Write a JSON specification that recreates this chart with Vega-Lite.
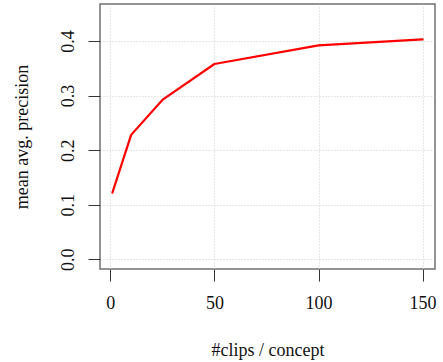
{
  "$schema": "https://vega.github.io/schema/vega-lite/v6.json",
  "autosize": "none",
  "width": 335,
  "height": 265,
  "padding": {"left": 100, "top": 4, "right": 8, "bottom": 93},
  "background": "white",
  "config": {
    "view": {"stroke": "#707070", "strokeWidth": 1.5},
    "font": "Liberation Serif"
  },
  "data": {
    "values": [
      {"clips": 1, "map": 0.122},
      {"clips": 10, "map": 0.228},
      {"clips": 25, "map": 0.292},
      {"clips": 50, "map": 0.358},
      {"clips": 100, "map": 0.392},
      {"clips": 150, "map": 0.403}
    ]
  },
  "mark": {"type": "line", "color": "#FF0000", "strokeWidth": 2.2, "strokeCap": "round", "strokeJoin": "round"},
  "encoding": {
    "x": {
      "field": "clips",
      "type": "quantitative",
      "scale": {"domain": [-4.96, 155.96], "nice": false, "zero": false},
      "axis": {
        "values": [0, 50, 100, 150],
        "domain": false,
        "grid": true,
        "gridColor": "#CCCCCC",
        "gridDash": [1, 2],
        "gridWidth": 1,
        "tickColor": "#333333",
        "tickSize": 12,
        "tickWidth": 1,
        "labelFont": "Liberation Serif",
        "labelFontSize": 18,
        "labelColor": "#111111",
        "labelPadding": 13,
        "labelFlush": false,
        "title": "#clips / concept",
        "titleFont": "Liberation Serif",
        "titleFontSize": 18,
        "titleFontWeight": "normal",
        "titleColor": "#111111",
        "titleBaseline": "alphabetic",
        "titleY": 86
      }
    },
    "y": {
      "field": "map",
      "type": "quantitative",
      "scale": {"domain": [-0.018, 0.468], "nice": false, "zero": false},
      "axis": {
        "values": [0, 0.1, 0.2, 0.3, 0.4],
        "format": ".1f",
        "domain": false,
        "grid": true,
        "gridColor": "#CCCCCC",
        "gridDash": [1, 2],
        "gridWidth": 1,
        "tickColor": "#333333",
        "tickSize": 12,
        "tickWidth": 1,
        "labelFont": "Liberation Serif",
        "labelFontSize": 18,
        "labelColor": "#111111",
        "labelAngle": -90,
        "labelAlign": "center",
        "labelBaseline": "alphabetic",
        "labelPadding": 15,
        "labelFlush": false,
        "title": "mean avg. precision",
        "titleFont": "Liberation Serif",
        "titleFontSize": 18,
        "titleFontWeight": "normal",
        "titleColor": "#111111",
        "titleBaseline": "alphabetic",
        "titleX": -73
      }
    }
  }
}
